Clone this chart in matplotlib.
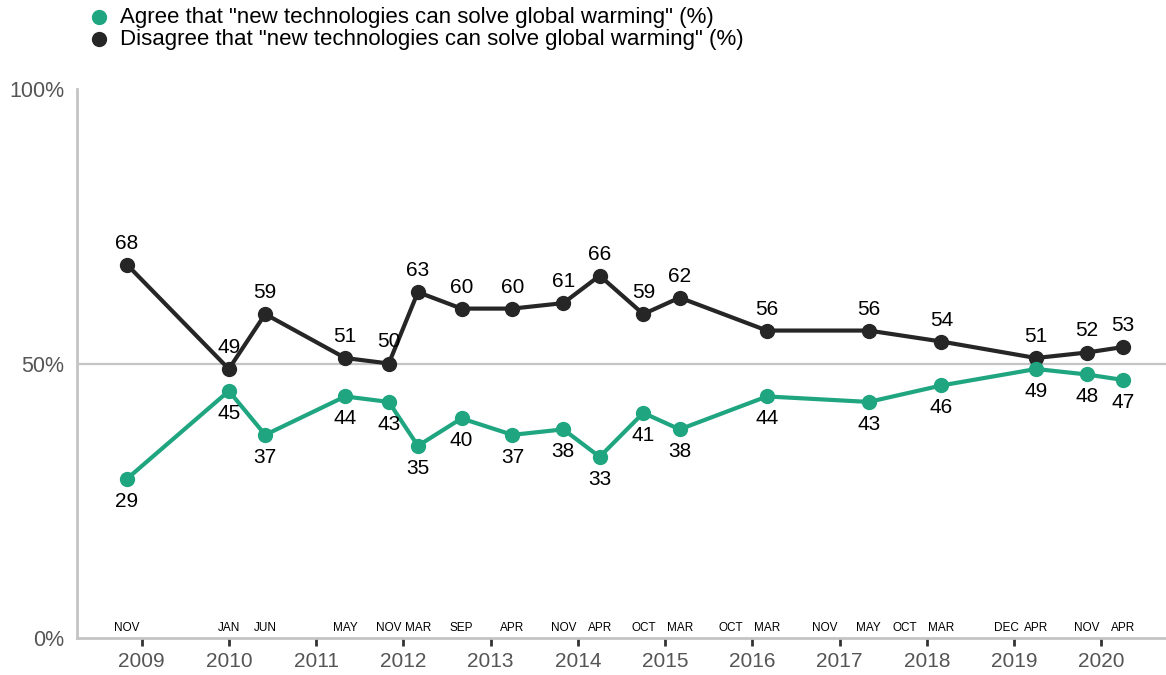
import matplotlib
matplotlib.use("Agg")
from matplotlib import pyplot as plt
from matplotlib.lines import Line2D

plt.rcParams['font.family'] = ['Liberation Sans', 'DejaVu Sans']

# survey dates that have data (year, month)
dates = [(2008, 11), (2010, 1), (2010, 6), (2011, 5), (2011, 11), (2012, 3),
         (2012, 9), (2013, 4), (2013, 11), (2014, 4), (2014, 10), (2015, 3),
         (2016, 3), (2017, 5), (2018, 3), (2019, 4), (2019, 11), (2020, 4)]
agree = [29, 45, 37, 44, 43, 35, 40, 37, 38, 33, 41, 38, 44, 43, 46, 49, 48, 47]
disagree = [68, 49, 59, 51, 50, 63, 60, 60, 61, 66, 59, 62, 56, 56, 54, 51, 52, 53]

# month labels along the bottom (all survey waves)
wave_dates = [(2008, 11), (2010, 1), (2010, 6), (2011, 5), (2011, 11), (2012, 3),
              (2012, 9), (2013, 4), (2013, 11), (2014, 4), (2014, 10), (2015, 3),
              (2015, 10), (2016, 3), (2016, 11), (2017, 5), (2017, 10), (2018, 3),
              (2018, 12), (2019, 4), (2019, 11), (2020, 4)]
month_names = ['JAN', 'FEB', 'MAR', 'APR', 'MAY', 'JUN',
               'JUL', 'AUG', 'SEP', 'OCT', 'NOV', 'DEC']
years = list(range(2009, 2021))

agree_label = 'Agree that "new technologies can solve global warming" (%)'
disagree_label = 'Disagree that "new technologies can solve global warming" (%)'

GREEN = '#1fa681'
DARK = '#262626'
GREY = '#c4c4c4'


def to_t(ym):
    return ym[0] + (ym[1] - 1) / 12


x = [to_t(d) for d in dates]

W, H = 1166, 675
fig = plt.figure(figsize=(W / 100, H / 100), dpi=100)
ax = fig.add_axes([77 / W, 37 / H, 1 - 77 / W, 549 / H])

ax.axhline(50, color=GREY, lw=1.6, zorder=1)

ax.plot(x, disagree, color=DARK, lw=3, marker='o', ms=10, zorder=3)
ax.plot(x, agree, color=GREEN, lw=3, marker='o', ms=10, zorder=3)

for xi, v in zip(x, disagree):
    ax.annotate(str(v), (xi, v), xytext=(0, 15.5), textcoords='offset points',
                ha='center', va='center', fontsize=15, color='black')
for xi, v in zip(x, agree):
    ax.annotate(str(v), (xi, v), xytext=(0, -16), textcoords='offset points',
                ha='center', va='center', fontsize=15, color='black')

for d in wave_dates:
    ax.text(to_t(d), 1.9, month_names[d[1] - 1], ha='center', va='center',
            fontsize=8.5, color='black')

ax.set_xlim(2008.26, 2020.74)
ax.set_ylim(0, 100)

ax.set_yticks([0, 50, 100])
ax.set_yticklabels(['0%', '50%', '100%'])
ax.set_xticks(years)
ax.set_xticklabels([str(y) for y in years])
ax.tick_params(axis='y', length=0, pad=9, labelsize=15.5, labelcolor='#555555')
ax.tick_params(axis='x', length=6, width=2, color='#333333', pad=4,
               labelsize=15, labelcolor='#555555')

for s in ['top', 'right']:
    ax.spines[s].set_visible(False)
for s in ['left', 'bottom']:
    ax.spines[s].set_color(GREY)
    ax.spines[s].set_linewidth(2)

# legend drawn by hand for tight row spacing
for i, (lab, col) in enumerate([(agree_label, GREEN), (disagree_label, DARK)]):
    yy = 1 - (17 + 22 * i) / H
    fig.add_artist(Line2D([99 / W], [yy], transform=fig.transFigure,
                          color=col, marker='o', ms=10, ls=''))
    fig.text(120 / W, yy, lab, ha='left', va='center', fontsize=16,
             color='black')

fig.savefig('out.png', dpi=100)
